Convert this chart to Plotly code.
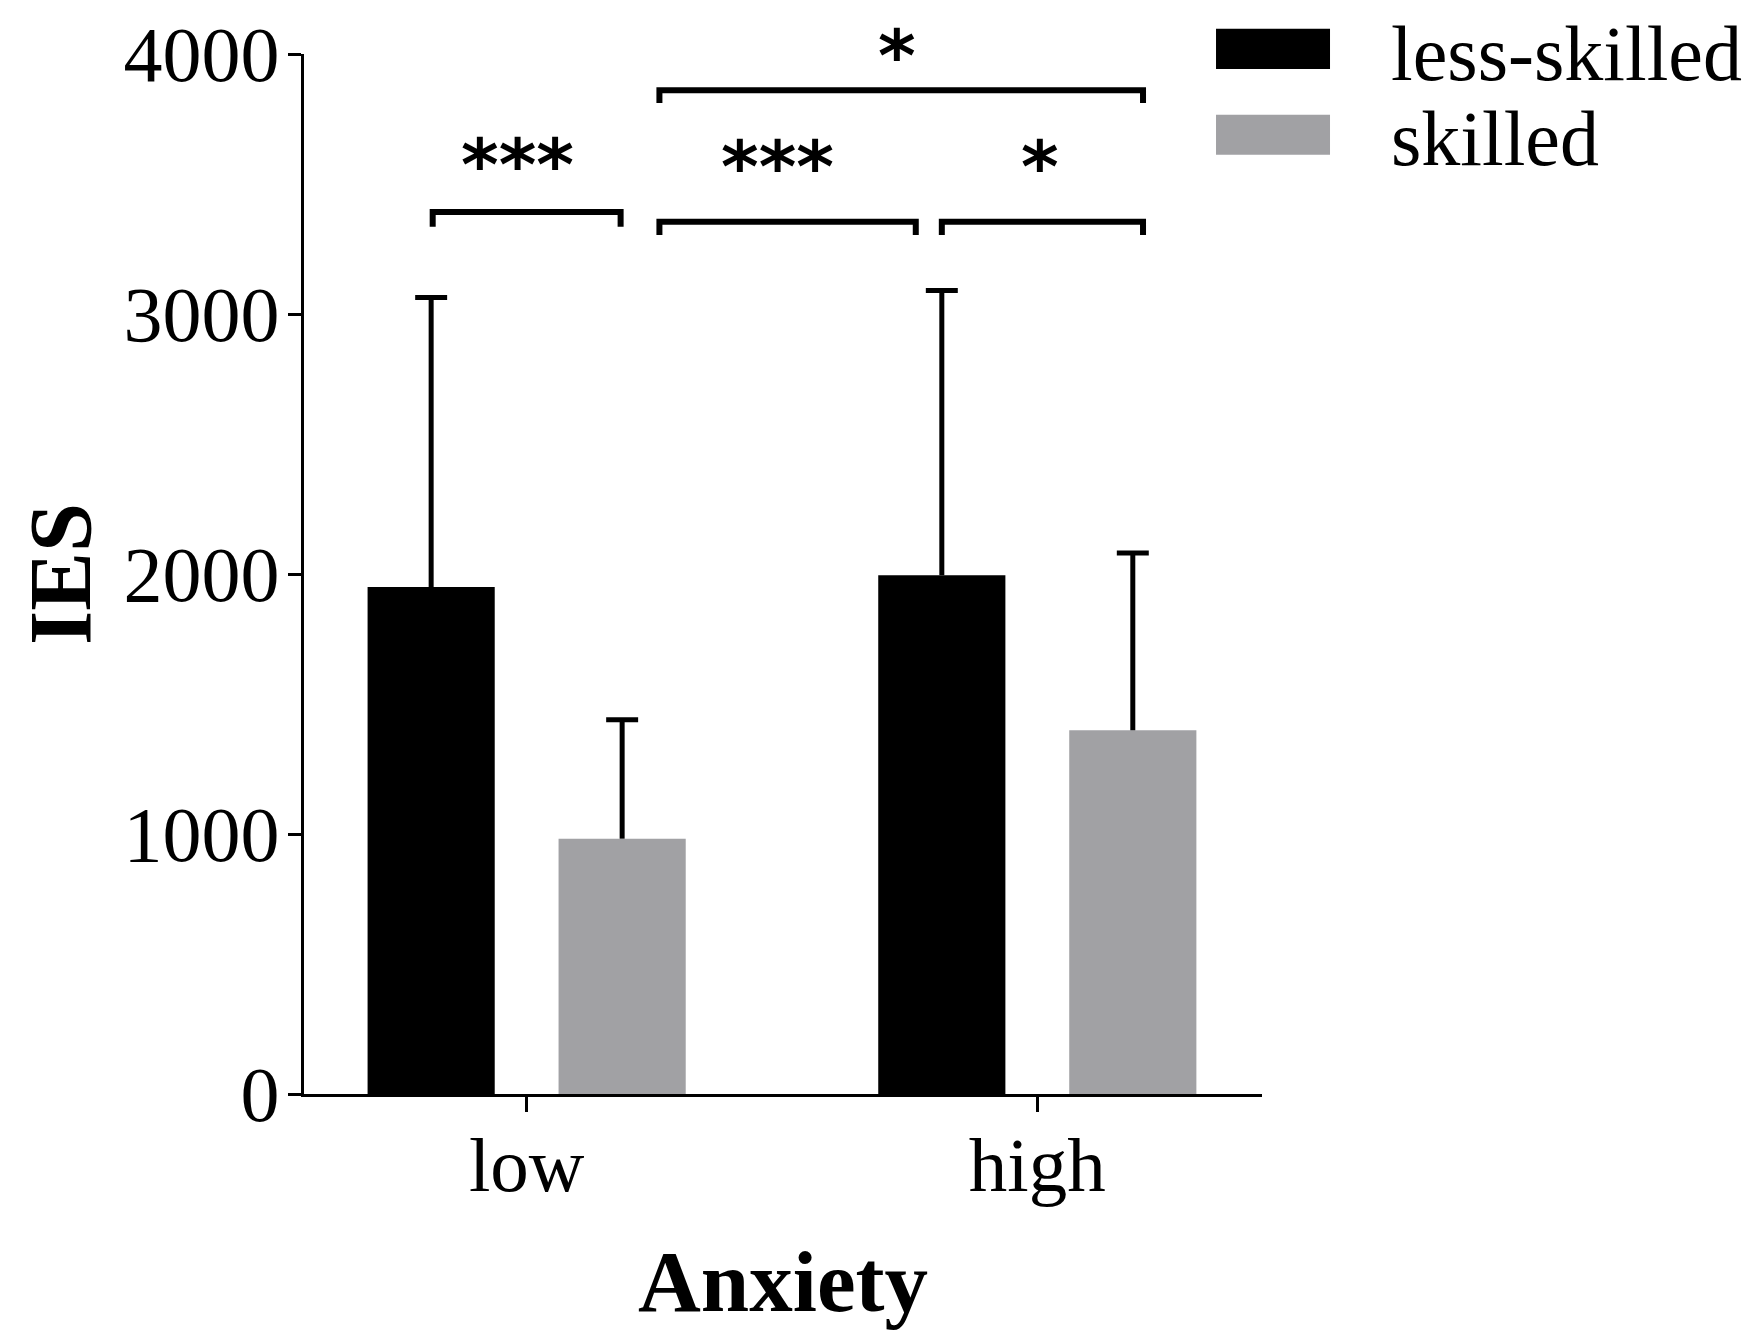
import plotly.graph_objects as go

# ---- data ----
categories = ["low", "high"]
cat_pos = [0, 1]
less_skilled_mean = [1950, 1995]
less_skilled_sd = [1113, 1095]
skilled_mean = [982, 1399]
skilled_sd = [457, 682]
y_ticks = [0, 1000, 2000, 3000, 4000]

# significance brackets
br_x0 = [-0.184, 0.260, 0.813, 0.260]
br_x1 = [0.184, 0.762, 1.207, 1.207]
br_y = [3392, 3355, 3355, 3861]
br_drop = [56, 51, 51, 49]
sig_text = ["***", "***", "*", "*"]
sig_x = [-0.018, 0.492, 1.006, 0.725]
sig_y = [3572, 3565, 3565, 3992]

# ---- style ----
BLACK = "#000000"
GRAY = "#a1a1a4"
SERIF = "Liberation Serif"
BAR_W = 0.249        # bar width in category units
CENTER_OFF = 0.187   # distance of each bar centre from its category
CAP = 0.0313         # error-bar cap half width in category units

fig = go.Figure()

series = [
    ("less-skilled", less_skilled_mean, less_skilled_sd, BLACK, -CENTER_OFF),
    ("skilled", skilled_mean, skilled_sd, GRAY, CENTER_OFF),
]
for name, means, sds, col, off in series:
    fig.add_trace(go.Bar(
        x=cat_pos, y=means, name=name, width=BAR_W, offset=off - BAR_W / 2,
        marker=dict(color=col, line=dict(width=0)), showlegend=False,
    ))

# upward-only error bars (SD) drawn as line segments from the data
for name, means, sds, col, off in series:
    xs, ys = [], []
    for c, m, s in zip(cat_pos, means, sds):
        xc = c + off
        top = m + s
        xs += [xc, xc, None, xc - CAP, xc + CAP, None]
        ys += [m, top, None, top, top, None]
    fig.add_trace(go.Scatter(
        x=xs, y=ys, mode="lines", line=dict(color=BLACK, width=5),
        showlegend=False, hoverinfo="skip", name=name + " SD",
    ))

shapes = []
for x0, x1, y, d in zip(br_x0, br_x1, br_y, br_drop):
    shapes.append(dict(
        type="path", xref="x", yref="y",
        path=f"M {x0},{y - d} L {x0},{y} L {x1},{y} L {x1},{y - d}",
        line=dict(color=BLACK, width=6),
    ))

annotations = []
for t, x, y in zip(sig_text, sig_x, sig_y):
    annotations.append(dict(
        x=x, y=y, xref="x", yref="y", text=t, showarrow=False,
        font=dict(family="DejaVu Sans", size=72, color=BLACK, weight="bold"),
        xanchor="center", yanchor="middle",
    ))

# y-axis title
annotations.append(dict(
    x=-0.2547, y=0.5, xref="paper", yref="paper", text="<b>IES</b>", textangle=-90,
    showarrow=False, xanchor="center", yanchor="middle",
    font=dict(family=SERIF, size=88, color=BLACK),
))

# legend (large swatches)
legend_names = ["less-skilled", "skilled"]
legend_colors = [BLACK, GRAY]
leg_y_top = [1.0243, 0.9417]
leg_y_bot = [0.9856, 0.9031]
for name, col, yt, yb in zip(legend_names, legend_colors, leg_y_top, leg_y_bot):
    shapes.append(dict(type="rect", xref="paper", yref="paper",
                       x0=0.952, x1=1.071, y0=yb, y1=yt,
                       fillcolor=col, line=dict(width=0)))
    annotations.append(dict(x=1.133, y=(yt + yb) / 2 - 0.004, xref="paper", yref="paper",
                            text=name, showarrow=False, xanchor="left", yanchor="middle",
                            font=dict(family=SERIF, size=78, color=BLACK)))

fig.update_layout(
    width=1742, height=1333,
    margin=dict(l=296, r=488, t=46, b=247, autoexpand=False),
    paper_bgcolor="white", plot_bgcolor="white",
    barmode="overlay",
    shapes=shapes, annotations=annotations,
    font=dict(family=SERIF, color=BLACK),
)
fig.update_xaxes(
    range=[-0.436, 1.44], tickvals=cat_pos, ticktext=categories,
    showline=True, linewidth=3, linecolor=BLACK, ticks="outside",
    ticklen=15, tickwidth=3, tickcolor=BLACK, showgrid=False, zeroline=False,
    tickfont=dict(family=SERIF, size=77, color=BLACK), ticklabelstandoff=-13,
    title=dict(text="<b>Anxiety</b>", font=dict(family=SERIF, size=87, color=BLACK), standoff=43),
    automargin=False,
)
fig.update_yaxes(
    range=[0, 4000], tickvals=y_ticks,
    showline=True, linewidth=3, linecolor=BLACK, ticks="outside",
    ticklen=13, tickwidth=3, tickcolor=BLACK, showgrid=False, zeroline=False,
    tickfont=dict(family=SERIF, size=78, color=BLACK), ticklabelstandoff=-7,
    ticklabeloverflow="allow",
    automargin=False,
)

fig.write_html("out.html")
